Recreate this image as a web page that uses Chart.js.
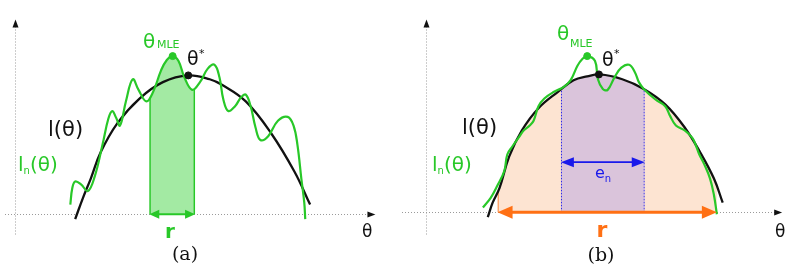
<!DOCTYPE html>
<html><head><meta charset="utf-8">
<script src="https://cdn.jsdelivr.net/npm/chart.js@4/dist/chart.umd.min.js"></script>
<style>
html,body{margin:0;padding:0;background:#fff;width:794px;height:280px;overflow:hidden}
.p{position:absolute;top:0;width:397px;height:280px}
</style></head><body>
<div class="p" style="left:0"><canvas id="ca" width="397" height="280"></canvas></div>
<div class="p" style="left:397px"><canvas id="cb" width="397" height="280"></canvas></div>
<script>
// ---------- Panel (a) data ----------
const thetaA_true = [62,70,78,88,105,128,152,178,200,213,237,263,287,303];
const ellA        = [-5,17,37,64,94,120,137,144,140,134,117,84,44,10];
const thetaA_n = [57,59,62,68,75,82,90,96,100,104,108,114,121,127,135,142,150,156,162,168,174,182,190,198,205,210,214,219,226,232,237,242,247,252,260,270,280,286,290,294,297,298];
const ellnA    = [10,27,34,31,24,39,72,99,107,100,92,117,140,129,117,127,149,160,164,159,142,129,137,151,155,142,119,107,112,121,124,112,90,77,81,97,101,92,72,37,12,-5];
const mleA = [162,164];
const starA = [178,144];
const rA = [138,185];

// ---------- Panel (b) data ----------
const thetaB_true = [63,68,75,85,98,115,135,151,165,178,201,223,245,265,281,295,304];
const ellB        = [-5,10,25,58,85,108,125,137,141,143,138,128,112,88,62,35,10];
const thetaB_n = [58,66,73,80,83,88,95,100,106,110,115,121,131,141,148,155,160,165,173,176,181,186,193,200,208,214,218,223,235,245,250,256,265,273,277,280,285,291,295,298];
const ellnB    = [5,15,28,43,60,68,78,85,90,95,110,118,125,130,137,152,159,162,157,138,128,127,140,150,153,145,135,128,117,110,100,90,85,77,68,60,50,35,18,-2];
const mleB = [165,162];
const starB = [177,143];
const rB = [73,298];
const eB = [138,224];
const eB_level = 52;

const GREEN = 'rgb(40,200,40)';
const BLUE = 'rgb(25,25,235)';
const ORANGE = 'rgb(255,112,20)';
const SANS = '"DejaVu Sans", sans-serif';
const SERIF = '"DejaVu Serif", serif';

function pts(xs, ys){ return xs.map((x,i)=>({x:x,y:ys[i]})); }
function lineDS(xs, ys, color, w, order, tension){
  return {data: pts(xs,ys), borderColor: color, borderWidth: w, pointRadius: 0,
          tension: tension, fill: false, order: order};
}
function dotDS(p, color){
  return {data:[{x:p[0],y:p[1]}], showLine:false, pointRadius:3.5, pointBackgroundColor:color,
          pointBorderColor:color, order:-1};
}
function head(ctx,x,y,dir,len,half,color){
  ctx.beginPath(); ctx.moveTo(x,y); ctx.lineTo(x-dir*len,y-half); ctx.lineTo(x-dir*len,y+half);
  ctx.closePath(); ctx.fillStyle=color; ctx.fill();
}
function vhead(ctx,x,y,len,half,color){
  ctx.beginPath(); ctx.moveTo(x,y); ctx.lineTo(x-half,y+len); ctx.lineTo(x+half,y+len);
  ctx.closePath(); ctx.fillStyle=color; ctx.fill();
}
function txt(ctx,s,x,y,font,color,align){
  ctx.font=font; ctx.fillStyle=color; ctx.textAlign=align||'left'; ctx.textBaseline='alphabetic';
  ctx.fillText(s,x,y); return ctx.measureText(s).width;
}

function makeChart(id, cfg){
  const plugin = {
    id: 'deco',
    beforeDatasetsDraw(ch){
      const ctx = ch.ctx, sx = ch.scales.x, sy = ch.scales.y;
      const X = v=>sx.getPixelForValue(v), Y = v=>sy.getPixelForValue(v);
      // axes
      ctx.save();
      ctx.strokeStyle='#9a9a9a'; ctx.lineWidth=1; ctx.setLineDash([1,2]);
      ctx.beginPath(); ctx.moveTo(Math.round(X(0))+0.5, Y(cfg.axY[0])); ctx.lineTo(Math.round(X(0))+0.5, Y(cfg.axY[1])+6); ctx.stroke();
      ctx.beginPath(); ctx.moveTo(X(cfg.axX[0]), Math.round(Y(0))+0.5); ctx.lineTo(X(cfg.axX[1])-6, Math.round(Y(0))+0.5); ctx.stroke();
      ctx.setLineDash([]);
      vhead(ctx, Math.round(X(0))+0.5, Y(cfg.axY[1]), 8, 3, '#111');
      head(ctx, X(cfg.axX[1]), Math.round(Y(0))+0.5, 1, 8, 3, '#111');
      ctx.restore();
      // bands under a curve
      const area = ch.chartArea;
      cfg.bands.forEach(b=>{
        const meta = ch.getDatasetMeta(b.src);
        const line = meta.dataset;
        const xl = X(b.lo), xr = X(b.hi), y0 = Y(0);
        ctx.save();
        ctx.beginPath(); ctx.rect(xl, area.top, xr-xl, y0-area.top); ctx.clip();
        ctx.beginPath();
        if (line && typeof line.path === 'function') {
          if (typeof line.updateControlPoints === 'function') line.updateControlPoints(area, 'x');
          line.path(ctx);
        } else {
          meta.data.forEach((p,i)=> i? ctx.lineTo(p.x,p.y) : ctx.moveTo(p.x,p.y));
        }
        const d = meta.data;
        ctx.lineTo(d[d.length-1].x, y0); ctx.lineTo(d[0].x, y0); ctx.closePath();
        ctx.fillStyle = b.fill; ctx.fill();
        if (b.edge) {
          ctx.clip();
          ctx.strokeStyle = b.edge.color; ctx.lineWidth = b.edge.width;
          ctx.setLineDash(b.edge.dash || []);
          const e = b.edge.width/2;
          (b.edge.sides||['l','r']).forEach(s=>{
            const x = s==='l' ? xl+e : xr-e;
            ctx.beginPath(); ctx.moveTo(x, y0); ctx.lineTo(x, area.top); ctx.stroke();
          });
        }
        ctx.restore();
      });
    },
    afterDatasetsDraw(ch){
      const ctx = ch.ctx, sx = ch.scales.x, sy = ch.scales.y;
      const X = v=>sx.getPixelForValue(v), Y = v=>sy.getPixelForValue(v);
      ctx.save();
      cfg.arrows.forEach(a=>{
        const xa = X(a.lo), xb = X(a.hi), yy = Y(a.y);
        ctx.strokeStyle=a.color; ctx.lineWidth=a.w; ctx.beginPath();
        ctx.moveTo(xa+a.len*0.7, yy); ctx.lineTo(xb-a.len*0.7, yy); ctx.stroke();
        head(ctx, xa, yy, -1, a.len, a.half, a.color);
        head(ctx, xb, yy, 1, a.len, a.half, a.color);
      });
      cfg.labels(ctx);
      ctx.restore();
    }
  };
  return new Chart(document.getElementById(id), {
    type: 'line',
    data: {datasets: cfg.datasets},
    options: {
      responsive:false, animation:false, events:[],
      layout:{padding:0},
      plugins:{legend:{display:false}, tooltip:{enabled:false}},
      scales:{
        x:{type:'linear', display:false, min:cfg.x[0], max:cfg.x[1]},
        y:{type:'linear', display:false, min:cfg.y[0], max:cfg.y[1]}
      }
    },
    plugins:[plugin]
  });
}

function lnLabel(ctx,x,y,color){
  let w = txt(ctx,'l',x,y,'20px '+SANS,color);
  let w2 = txt(ctx,'n',x+w,y+3,'10px '+SANS,color);
  txt(ctx,'(θ)',x+w+w2,y,'20px '+SANS,color);
}

// Panel (a)
makeChart('ca', {
  x:[-10,387], y:[-63,217],
  axX:[-10,370], axY:[-21,202],
  datasets:[
    lineDS(thetaA_n, ellnA, GREEN, 2.2, 0, 0.4),
    lineDS(thetaA_true, ellA, '#111', 2.3, 1, 0.4),
    dotDS(mleA, GREEN),
    dotDS(starA, '#111')
  ],
  bands:[{src:0, lo:rA[0], hi:rA[1], fill:'rgb(163,234,163)', edge:{color:GREEN, width:1.5}}],
  arrows:[{lo:rA[0], hi:rA[1], y:0, color:GREEN, w:2, len:10, half:4.5}],
  labels(ctx){
    txt(ctx,'θ',143,48,'20px '+SANS,GREEN);
    txt(ctx,'MLE',157,48,'11px '+SANS,GREEN);
    txt(ctx,'θ',187,65,'19px '+SANS,'#111');
    txt(ctx,'*',199,57,'11px '+SANS,'#111');
    txt(ctx,'l(θ)',48,136,'21px '+SANS,'#111');
    lnLabel(ctx,18,171,GREEN);
    txt(ctx,'θ',362,237,'17px '+SANS,'#111');
    txt(ctx,'r',170,238,'bold 20px '+SANS,GREEN,'center');
    txt(ctx,'(a)',185,260,'19px '+SERIF,'#111','center');
  }
});

// Panel (b)
makeChart('cb', {
  x:[-25,372], y:[-65,215],
  axX:[-25,365], axY:[-23,200],
  datasets:[
    lineDS(thetaB_n, ellnB, GREEN, 2.2, 0, 0.4),
    lineDS(thetaB_true, ellB, '#111', 2.3, 1, 0.4),
    dotDS(mleB, GREEN),
    dotDS(starB, '#111')
  ],
  bands:[
    {src:1, lo:rB[0], hi:rB[1], fill:'rgb(253,228,210)', edge:{color:ORANGE, width:1, sides:['l']}},
    {src:1, lo:eB[0], hi:eB[1], fill:'rgb(218,196,219)', edge:{color:BLUE, width:1, dash:[1.5,1.5]}}
  ],
  arrows:[
    {lo:rB[0], hi:rB[1], y:0, color:ORANGE, w:3, len:15, half:6.5},
    {lo:eB[0], hi:eB[1], y:eB_level, color:BLUE, w:1.8, len:13, half:5}
  ],
  labels(ctx){
    txt(ctx,'θ',160,40,'20px '+SANS,GREEN);
    txt(ctx,'MLE',173,47,'11px '+SANS,GREEN);
    txt(ctx,'θ',205,66,'19px '+SANS,'#111');
    txt(ctx,'*',217,57,'11px '+SANS,'#111');
    txt(ctx,'l(θ)',65,134,'21px '+SANS,'#111');
    lnLabel(ctx,35,171,GREEN);
    let w = txt(ctx,'e',198,178,'16px '+SANS,BLUE);
    txt(ctx,'n',198+w,182,'10px '+SANS,BLUE);
    txt(ctx,'r',205,237,'bold 22px '+SANS,ORANGE,'center');
    txt(ctx,'θ',378,237,'17px '+SANS,'#111');
    txt(ctx,'(b)',204,261,'19px '+SERIF,'#111','center');
  }
});
</script>
</body></html>
